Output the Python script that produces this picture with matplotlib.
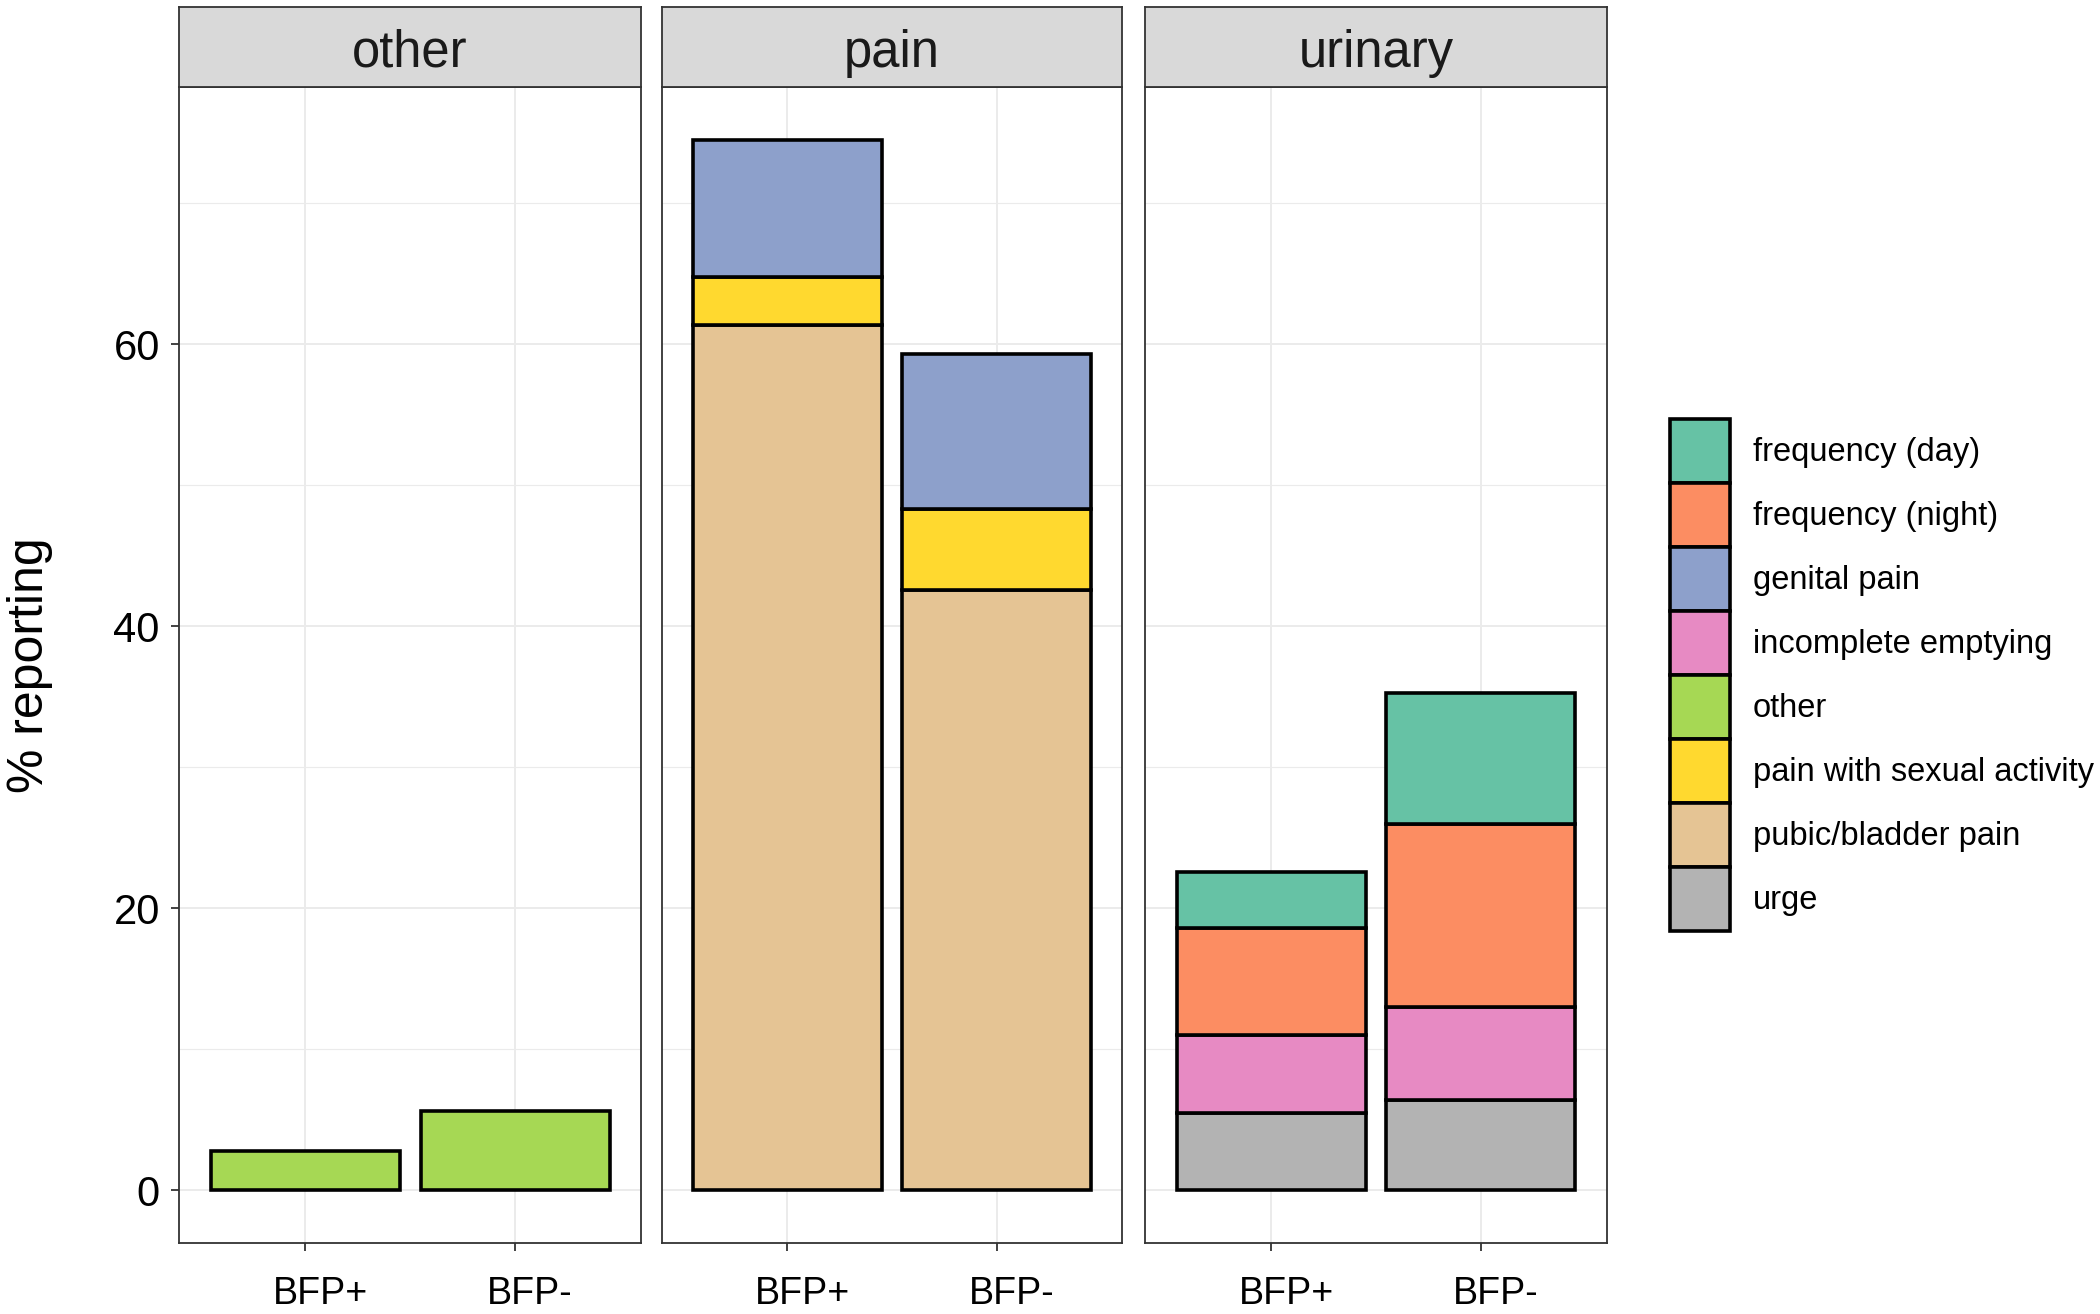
import numpy as np
import matplotlib
matplotlib.use('Agg')
import matplotlib.pyplot as plt
from matplotlib.patches import Patch
from matplotlib.transforms import ScaledTranslation

plt.rcParams['font.family'] = ['Liberation Sans', 'DejaVu Sans']

# data, stacks listed bottom -> top
groups = ['BFP+', 'BFP-']
panels = ['other', 'pain', 'urinary']

other_other = [2.8, 5.6]

pain_pubic = [61.4, 42.6]
pain_sexual = [3.4, 5.7]
pain_genital = [9.7, 11.0]

urin_urge = [5.5, 6.4]
urin_incomplete = [5.5, 6.6]
urin_night = [7.6, 13.0]
urin_day = [4.0, 9.3]

symptoms = ['frequency (day)', 'frequency (night)', 'genital pain', 'incomplete emptying',
            'other', 'pain with sexual activity', 'pubic/bladder pain', 'urge']
colors = ['#66C2A5', '#FC8D62', '#8DA0CB', '#E78AC3',
          '#A6D854', '#FFD92F', '#E5C494', '#B3B3B3']
col = dict(zip(symptoms, colors))

stacks = {
    'other': [('other', other_other)],
    'pain': [('pubic/bladder pain', pain_pubic),
             ('pain with sexual activity', pain_sexual),
             ('genital pain', pain_genital)],
    'urinary': [('urge', urin_urge),
                ('incomplete emptying', urin_incomplete),
                ('frequency (night)', urin_night),
                ('frequency (day)', urin_day)],
}

W, H = 2100, 1314
fig = plt.figure(figsize=(21, 13.14), dpi=100)

panel_x = [(179, 641), (662, 1122), (1145, 1607)]
top, bottom, strip_top = 87, 1243, 7
border = '#333333'
x = np.arange(1, len(groups) + 1)

for i, name in enumerate(panels):
    x0, x1 = panel_x[i]
    ax = fig.add_axes([x0 / W, 1 - bottom / H, (x1 - x0) / W, (bottom - top) / H])
    bottoms = np.zeros(len(groups))
    for sym, vals in stacks[name]:
        ax.bar(x, vals, width=0.9, bottom=bottoms, color=col[sym],
               edgecolor='black', linewidth=2.6, zorder=3)
        bottoms += np.array(vals)

    ax.set_xlim(0.4, 2.6)
    ax.set_ylim(-3.73, 78.25)
    ax.set_yticks([0, 20, 40, 60])
    ax.set_yticks([10, 30, 50, 70], minor=True)
    ax.set_xticks(x)
    ax.set_xticklabels(groups)
    ax.grid(True, which='major', color='#EBEBEB', linewidth=1.4, zorder=0)
    ax.grid(True, which='minor', axis='y', color='#EBEBEB', linewidth=0.8, zorder=0)
    ax.set_axisbelow(True)
    for s in ax.spines.values():
        s.set_color(border)
        s.set_linewidth(1.3)
    ax.tick_params(axis='both', which='major', length=5.8, width=1.3, color=border)
    ax.tick_params(axis='y', which='minor', length=0)
    ax.tick_params(axis='x', labelsize=27, pad=18, labelcolor='black')
    if i == 0:
        ax.tick_params(axis='y', labelsize=30, pad=8, labelcolor='black')
    else:
        ax.tick_params(axis='y', which='major', length=0, labelleft=False)
    for lab in ax.get_xticklabels():
        lab.set_transform(lab.get_transform() + ScaledTranslation(0.15, 0, fig.dpi_scale_trans))

    # facet strip
    sax = fig.add_axes([x0 / W, 1 - top / H, (x1 - x0) / W, (top - strip_top) / H])
    sax.set_facecolor('#D9D9D9')
    sax.set_xticks([])
    sax.set_yticks([])
    for s in sax.spines.values():
        s.set_color(border)
        s.set_linewidth(1.3)
    sax.text(0.5, 0.42, name, ha='center', va='center', fontsize=36.5,
             color='#1A1A1A', transform=sax.transAxes)

fig.text(30 / W, 1 - 665 / H, '% reporting', rotation=90, ha='center', va='center',
         fontsize=36)

handles = [Patch(facecolor=c, edgecolor='black', linewidth=2.6, label=s)
           for s, c in zip(symptoms, colors)]
fig.legend(handles=handles, loc='center left', bbox_to_anchor=(1670 / W, 1 - 675 / H),
           frameon=False, fontsize=23.5, handlelength=1.84, handleheight=2.64,
           labelspacing=0, handletextpad=0.7, borderpad=0, borderaxespad=0)

fig.savefig('out.png', dpi=100)
